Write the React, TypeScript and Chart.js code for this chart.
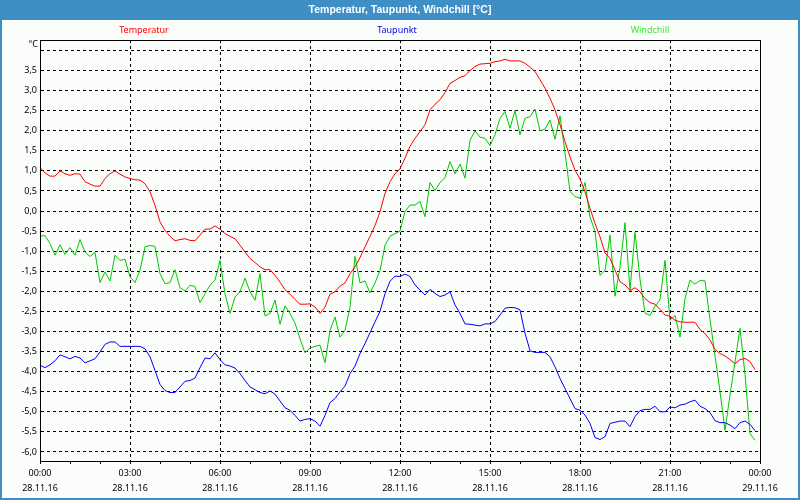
import React, { useEffect, useRef } from 'react';
import { Chart, registerables } from 'chart.js';

Chart.register(...registerables);

// Samples every 10 minutes, 28.11.16 00:00 .. 23:50
const temperatur = [
  1.08, 0.95, 0.87, 0.87, 1.0, 0.93, 0.89, 0.93, 0.92, 0.73, 0.67, 0.62, 0.62, 0.81, 0.93, 1.0, 0.92, 0.85, 0.81, 0.78, 0.77, 0.68, 0.48, 0.14,
  -0.27, -0.48, -0.63, -0.74, -0.71, -0.69, -0.73, -0.74, -0.6, -0.45, -0.45, -0.37, -0.45, -0.56, -0.63, -0.69, -0.85, -1.02, -1.18, -1.28,
  -1.39, -1.46, -1.46, -1.6, -1.77, -1.96, -2.07, -2.2, -2.32, -2.32, -2.31, -2.39, -2.55, -2.39, -2.07, -2.01, -1.87, -1.79, -1.56, -1.39,
  -1.16, -0.89, -0.63, -0.36, -0.02, 0.44, 0.73, 0.93, 1.05, 1.32, 1.61, 1.81, 1.98, 2.15, 2.52, 2.66, 2.77, 2.95, 3.18, 3.25,
  3.33, 3.37, 3.5, 3.6, 3.66, 3.67, 3.68, 3.72, 3.74, 3.78, 3.74, 3.74, 3.74, 3.68, 3.58, 3.48, 3.27, 3.06, 2.81, 2.52,
  2.15, 1.73, 1.35, 1.02, 0.8, 0.48, 0.07, -0.31, -0.64, -1.04, -1.18, -1.47, -1.76, -1.84, -1.98, -1.91, -2.01, -2.18, -2.28, -2.32,
  -2.45, -2.59, -2.62, -2.72, -2.76, -2.77, -2.77, -2.77, -2.95, -3.05, -3.21, -3.45, -3.55, -3.61, -3.7, -3.8, -3.7, -3.67, -3.75, -3.95,
];

const taupunkt = [
  -3.84, -3.9, -3.83, -3.73, -3.58, -3.63, -3.68, -3.62, -3.66, -3.78, -3.73, -3.68, -3.51, -3.32, -3.26, -3.26, -3.37, -3.37, -3.37, -3.37,
  -3.37, -3.43, -3.63, -3.97, -4.32, -4.47, -4.52, -4.52, -4.38, -4.24, -4.22, -4.16, -3.9, -3.66, -3.68, -3.53, -3.7, -3.83, -3.86, -3.91,
  -4.05, -4.22, -4.38, -4.45, -4.52, -4.55, -4.48, -4.56, -4.73, -4.9, -4.96, -5.09, -5.23, -5.19, -5.17, -5.23, -5.36, -5.09, -4.77, -4.67,
  -4.5, -4.36, -4.05, -3.86, -3.55, -3.3, -3.03, -2.76, -2.5, -2.06, -1.75, -1.62, -1.63, -1.57, -1.63, -1.84, -1.97, -2.09, -1.95, -2.05,
  -2.13, -2.09, -2.01, -2.34, -2.55, -2.81, -2.82, -2.84, -2.86, -2.81, -2.81, -2.75, -2.59, -2.42, -2.4, -2.41, -2.46, -3.04, -3.48, -3.52,
  -3.52, -3.52, -3.63, -3.88, -4.17, -4.42, -4.67, -4.92, -4.96, -5.08, -5.29, -5.64, -5.69, -5.62, -5.29, -5.26, -5.23, -5.23, -5.37, -5.12,
  -4.97, -4.94, -4.94, -4.86, -5.0, -5.0, -4.88, -4.9, -4.83, -4.81, -4.75, -4.71, -4.86, -4.92, -5.02, -5.22, -5.27, -5.27, -5.33, -5.42,
  -5.27, -5.23, -5.31, -5.47,
];

const windchill = [
  -0.63, -0.61, -0.81, -1.1, -0.84, -1.08, -0.91, -1.1, -0.71, -1.02, -1.13, -1.03, -1.78, -1.52, -1.74, -1.1, -1.23, -1.2, -1.64, -1.78,
  -1.47, -0.89, -0.86, -0.88, -1.56, -1.81, -1.78, -1.46, -1.91, -1.99, -1.85, -1.88, -2.28, -2.06, -1.85, -1.72, -1.23, -2.06, -2.55, -2.14,
  -2.01, -1.67, -2.01, -2.22, -1.56, -2.61, -2.55, -2.22, -2.82, -2.36, -2.55, -2.79, -3.18, -3.53, -3.41, -3.37, -3.34, -3.78, -2.97, -2.64,
  -3.14, -2.97, -2.4, -1.13, -1.79, -1.74, -2.04, -1.79, -1.48, -0.85, -0.63, -0.56, -0.5, -0.01, 0.15, 0.15, 0.24, -0.14, 0.71, 0.51,
  0.71, 0.83, 1.23, 0.93, 1.17, 0.82, 1.76, 2.0, 1.84, 1.81, 1.63, 1.9, 2.31, 2.48, 2.06, 2.5, 1.9, 2.31, 2.35, 2.54,
  2.0, 2.04, 2.27, 1.79, 2.37, 1.45, 0.49, 0.36, 0.32, 0.71, -0.15, -0.5, -1.6, -1.48, -0.6, -2.12, -1.4, -0.29, -1.97, -0.53,
  -1.7, -2.54, -2.6, -2.37, -2.21, -1.23, -2.72, -2.6, -3.14, -2.18, -1.72, -1.82, -1.73, -1.74, -2.7, -3.6, -4.5, -5.46, -4.58, -3.76,
  -2.92, -4.07, -5.54, -5.71,
];

const sampleMinutes = temperatur.map((_, i) => i * 10);

const timeLabels = ['00:00', '03:00', '06:00', '09:00', '12:00', '15:00', '18:00', '21:00', '00:00'];
const dateLabels = ['28.11.16', '28.11.16', '28.11.16', '28.11.16', '28.11.16', '28.11.16', '28.11.16', '28.11.16', '29.11.16'];
const yTickValues = [-6, -5.5, -5, -4.5, -4, -3.5, -3, -2.5, -2, -1.5, -1, -0.5, 0, 0.5, 1, 1.5, 2, 2.5, 3, 3.5, 4];

const chartTitle = 'Temperatur, Taupunkt, Windchill [°C]';
const seriesNames = ['Temperatur', 'Taupunkt', 'Windchill'];
const lineColors = ['#ff0000', '#0000ff', '#00c800'];
const legendColors = ['#ff0000', '#0000ee', '#33ee33'];
const unitLabel = '°C';

const FONT = '"Noto Sans", "Liberation Sans", Arial, sans-serif';
const TITLE_FONT = '"Liberation Sans", Arial, sans-serif';

export default function App() {
  const ref = useRef<HTMLCanvasElement>(null);

  useEffect(() => {
    const canvas = ref.current;
    if (!canvas) return;

    const chrome = {
      id: 'chrome',
      beforeDraw(chart: any) {
        const { ctx, width, height } = chart;
        ctx.save();
        ctx.fillStyle = '#fbfdfb';
        ctx.fillRect(0, 0, width, height);
        ctx.fillStyle = '#3d8fc6';
        ctx.fillRect(0, 0, width, 20);
        ctx.strokeStyle = '#3d8fc6';
        ctx.lineWidth = 2;
        ctx.strokeRect(1, 1, width - 2, height - 2);

        ctx.fillStyle = '#ffffff';
        ctx.font = `bold 10.5px ${TITLE_FONT}`;
        ctx.textAlign = 'center';
        ctx.textBaseline = 'middle';
        ctx.fillText(chartTitle, width / 2, 10);

        ctx.font = `9px ${FONT}`;
        const legendX = [144, 397, 650];
        seriesNames.forEach((n, i) => {
          ctx.fillStyle = legendColors[i];
          ctx.fillText(n, legendX[i], 30.5);
        });

        ctx.fillStyle = '#000';
        ctx.textAlign = 'right';
        ctx.fillText(unitLabel, 38, 44.5);
        ctx.restore();
      },
      afterDatasetsDraw(chart: any) {
        const { ctx, chartArea } = chart;
        ctx.save();
        ctx.strokeStyle = '#000';
        ctx.lineWidth = 1;
        ctx.setLineDash([]);
        ctx.strokeRect(
          chartArea.left + 0.5,
          chartArea.top + 0.5,
          chartArea.right - chartArea.left,
          chartArea.bottom - chartArea.top
        );
        ctx.restore();
      },
    };

    const mk = (vals: number[], i: number) => ({
      label: seriesNames[i],
      data: vals.map((v, k) => ({ x: sampleMinutes[k], y: v })),
      borderColor: lineColors[i],
      backgroundColor: lineColors[i],
      borderWidth: 1,
      pointRadius: 0,
      tension: 0,
      fill: false,
    });

    const chart = new Chart(canvas, {
      type: 'line',
      data: {
        datasets: [mk(temperatur, 0), mk(taupunkt, 1), mk(windchill, 2)],
      },
      options: {
        responsive: false,
        animation: false,
        parsing: false as any,
        layout: { padding: { top: 40, right: 40, left: 0, bottom: 0 } },
        plugins: {
          legend: { display: false },
          title: { display: false },
          tooltip: { enabled: false },
        },
        scales: {
          x: {
            type: 'linear',
            min: 0,
            max: 1440,
            afterFit: (s: any) => {
              s.height = 39;
            },
            ticks: {
              stepSize: 60,
              autoSkip: false,
              maxRotation: 0,
              minRotation: 0,
              padding: 2,
              color: '#000',
              font: { family: FONT, size: 9, lineHeight: '15px' as any },
              callback: (v: any) => {
                const i = Number(v) / 180;
                if (Number.isInteger(i)) return [timeLabels[i], dateLabels[i]];
                return '';
              },
            },
            grid: {
              drawTicks: true,
              tickLength: 3,
              tickColor: '#000',
              tickBorderDash: [],
              lineWidth: 1,
              color: (c: any) => {
                const v = c.tick ? c.tick.value : 0;
                return v % 180 === 0 && v !== 0 && v !== 1440 ? '#000' : 'rgba(0,0,0,0)';
              },
            } as any,
            border: { display: true, color: '#000', width: 1, dash: [3, 3] },
          },
          y: {
            type: 'linear',
            min: -6.225,
            max: 4.26,
            afterFit: (s: any) => {
              s.width = 40;
            },
            afterBuildTicks: (s: any) => {
              s.ticks = yTickValues.map((v) => ({ value: v }));
            },
            ticks: {
              padding: 3,
              color: '#000',
              font: { family: FONT, size: 9 },
              callback: (v: any) => (Number(v) === 4 ? '' : Number(v).toFixed(1).replace('.', ',')),
            },
            grid: {
              drawTicks: false,
              color: '#000',
              lineWidth: 1,
            },
            border: { display: true, color: '#000', width: 1, dash: [3, 3] },
          },
        },
      },
      plugins: [chrome],
    });

    return () => chart.destroy();
  }, []);

  return (
    <div style={{ position: 'fixed', left: 0, top: 0, width: 800, height: 500 }}>
      <canvas ref={ref} width={800} height={500} style={{ display: 'block' }} />
    </div>
  );
}
